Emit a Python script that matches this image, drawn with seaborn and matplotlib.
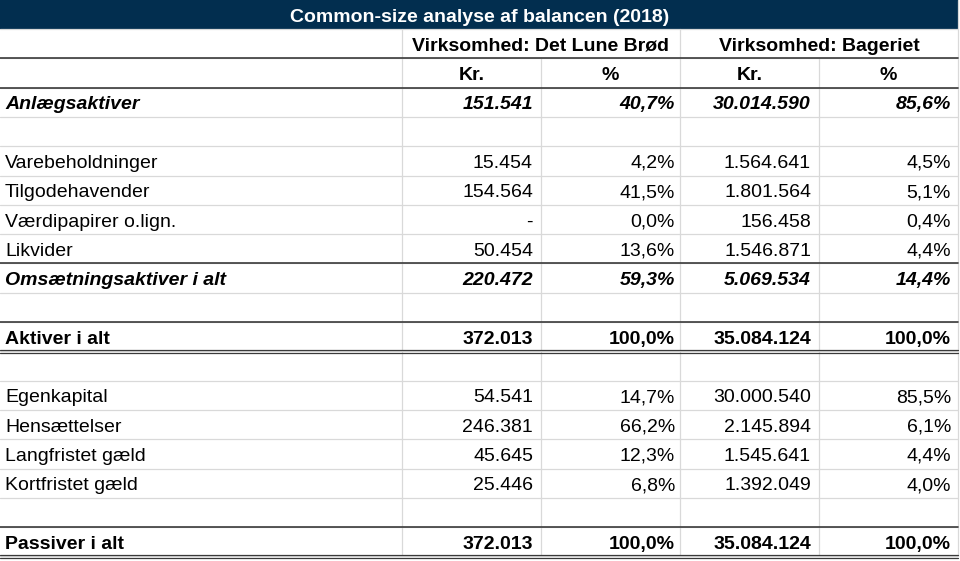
import matplotlib.pyplot as plt
import seaborn as sns

# data
title = "Common-size analyse af balancen (2018)"
companies = ["Virksomhed: Det Lune Brød", "Virksomhed: Bageriet"]
sub_headers = ["Kr.", "%", "Kr.", "%"]
labels = ["Anlægsaktiver", "", "Varebeholdninger", "Tilgodehavender", "Værdipapirer o.lign.",
          "Likvider", "Omsætningsaktiver i alt", "", "Aktiver i alt", "", "Egenkapital",
          "Hensættelser", "Langfristet gæld", "Kortfristet gæld", "", "Passiver i alt"]
styles = ["bi", "", "n", "n", "n", "n", "bi", "", "b", "", "n", "n", "n", "n", "", "b"]
lune_kr = [151541, None, 15454, 154564, 0, 50454, 220472, None, 372013, None,
           54541, 246381, 45645, 25446, None, 372013]
lune_pct = [40.7, None, 4.2, 41.5, 0.0, 13.6, 59.3, None, 100.0, None,
            14.7, 66.2, 12.3, 6.8, None, 100.0]
bag_kr = [30014590, None, 1564641, 1801564, 156458, 1546871, 5069534, None, 35084124, None,
          30000540, 2145894, 1545641, 1392049, None, 35084124]
bag_pct = [85.6, None, 4.5, 5.1, 0.4, 4.4, 14.4, None, 100.0, None,
           85.5, 6.1, 4.4, 4.0, None, 100.0]


def fmt_kr(v):
    if v is None:
        return ""
    if v == 0:
        return "-"
    return f"{v:,}".replace(",", ".")


def fmt_pct(v):
    if v is None:
        return ""
    return f"{v:.1f}%".replace(".", ",")


sns.set_theme(style="white")
plt.rcParams['font.family'] = ['Liberation Sans', 'DejaVu Sans']
plt.rcParams['text.color'] = 'black'

W, H = 960, 561
fig = plt.figure(figsize=(9.6, 5.61), dpi=100)
ax = fig.add_axes([0, 0, 1, 1])
ax.set_xlim(0, W)
ax.set_ylim(H, 0)
ax.axis("off")

navy = "#022e4f"
grid = "#d9d9d9"
dark = "#3a3a3a"
fs = 14

top = 29
rh = 29.3
cols = [0, 402, 541, 680, 819, 958]
n_rows = 2 + len(labels)
bounds = [top + rh * k for k in range(n_rows + 1)]
base_off = 7.6

# title bar
ax.fill_between([0, cols[-1]], 0, top, color=navy, lw=0)
ax.text(W / 2, 21.7, title, ha="center", va="baseline", color="white",
        fontsize=fs, fontweight="bold")

# light grid
for y in bounds:
    ax.plot([0, cols[-1]], [y, y], color=grid, lw=0.9, zorder=1)
for x in cols[1:]:
    x_top = bounds[1] if x in (541, 819) else bounds[0]
    if x == cols[-1]:
        x_top = 0
    ax.plot([x, x], [x_top, bounds[-1]], color=grid, lw=0.9, zorder=1)

# dark rules
for k in [1, 2, 8, 10, 17]:
    ax.plot([0, cols[-1]], [bounds[k], bounds[k]], color=dark, lw=1.2, zorder=2)
for k in [11, 18]:
    for d in (-1.6, 1.6):
        ax.plot([0, cols[-1]], [bounds[k] + d, bounds[k] + d], color=dark, lw=0.9, zorder=2)

# headers
yb = bounds[1] - base_off
ax.text((cols[1] + cols[3]) / 2, yb, companies[0], ha="center", va="baseline",
        fontsize=fs, fontweight="bold")
ax.text((cols[3] + cols[5]) / 2, yb, companies[1], ha="center", va="baseline",
        fontsize=fs, fontweight="bold")
yb = bounds[2] - base_off
for j, h in enumerate(sub_headers):
    ax.text((cols[j + 1] + cols[j + 2]) / 2, yb, h, ha="center", va="baseline",
            fontsize=fs, fontweight="bold")

# body
right_x = [533, 675, 811, 951]
for i, lab in enumerate(labels):
    yb = bounds[i + 3] - base_off
    st = styles[i]
    weight = "bold" if "b" in st else "normal"
    slant = "italic" if "i" in st else "normal"
    ax.text(5, yb, lab, ha="left", va="baseline", fontsize=fs,
            fontweight=weight, fontstyle=slant)
    vals = [fmt_kr(lune_kr[i]), fmt_pct(lune_pct[i]), fmt_kr(bag_kr[i]), fmt_pct(bag_pct[i])]
    for x, v in zip(right_x, vals):
        ax.text(x, yb, v, ha="right", va="baseline", fontsize=fs,
                fontweight=weight, fontstyle=slant)

fig.savefig("out.png", dpi=100)
